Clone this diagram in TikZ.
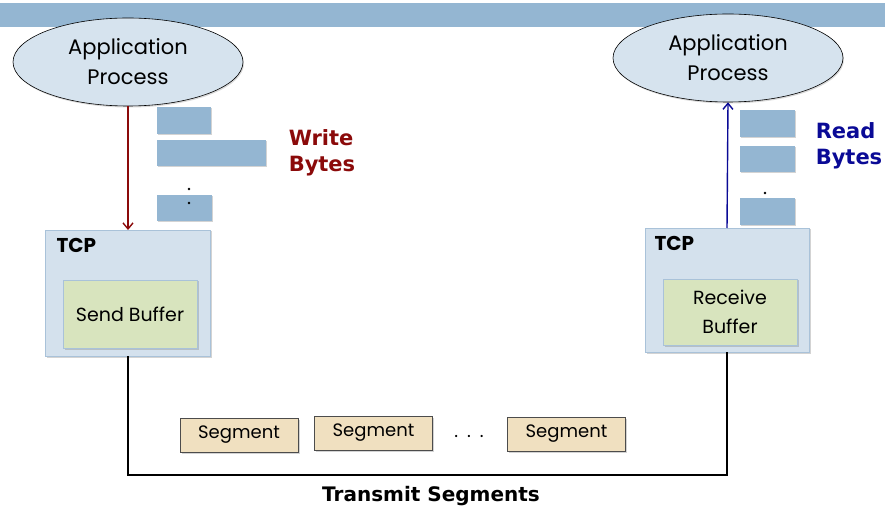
\documentclass[tikz,border=0pt]{standalone}
\usepackage{fontspec}
\setmainfont{Poppins}
\newfontfamily\comicf{DejaVu Sans}
\usetikzlibrary{shapes.geometric,shadows,arrows.meta}
\definecolor{band}{HTML}{94B6D2}
\definecolor{ellfill}{HTML}{D6E3EE}
\definecolor{tcpfill}{HTML}{D4E1ED}
\definecolor{tcpline}{HTML}{A9C2D9}
\definecolor{buffill}{HTML}{D8E4BE}
\definecolor{segfill}{HTML}{F0E0C0}
\definecolor{wred}{HTML}{8B0A0A}
\definecolor{rblue}{HTML}{0A0A96}
\begin{document}
\begin{tikzpicture}[x=1pt,y=-1pt,
  proc/.style={ellipse,draw=black,fill=ellfill,line width=0.6pt,minimum width=230pt,minimum height=88pt,align=center,font=\fontsize{21}{30}\selectfont,drop shadow={shadow xshift=1pt,shadow yshift=-1.5pt,opacity=0.3}},
  tcpbox/.style={draw=tcpline,fill=tcpfill,line width=0.8pt,drop shadow={shadow xshift=1.5pt,shadow yshift=-1.5pt,opacity=0.35}},
  bufbox/.style={draw=tcpline,fill=buffill,line width=0.8pt,align=center,font=\fontsize{19}{29}\selectfont,drop shadow={shadow xshift=1.5pt,shadow yshift=-1.5pt,opacity=0.35}},
  bytebox/.style={fill=band,drop shadow={shadow xshift=1pt,shadow yshift=-1.5pt,opacity=0.35}},
  segbox/.style={draw=black!70,fill=segfill,line width=0.6pt,minimum width=118pt,minimum height=34pt,font=\fontsize{18}{20}\selectfont,drop shadow={shadow xshift=1.5pt,shadow yshift=-1.5pt,opacity=0.35}},
  lbl/.style={font=\comicf\bfseries\fontsize{21}{26}\selectfont,align=left},
  tcplbl/.style={font=\bfseries\fontsize{20}{22}\selectfont,anchor=west}
]
\useasboundingbox (0,0) rectangle (885,510);
\fill[band] (0,3) rectangle (885,27);

\node[proc] (appL) at (128,62) {Application\\Process};
\node[proc] (appR) at (728,58) {Application\\Process};

% left TCP
\draw[tcpbox] (45,230) rectangle (210,356);
\node[tcplbl] (tcpL) at (53,245) {TCP};
\node[bufbox,minimum width=134pt,minimum height=68pt] (sendbuf) at (130,314) {Send Buffer};
\coordinate (tcpLtop) at (128,230);
\coordinate (tcpLbot) at (128,356);

% right TCP
\draw[tcpbox] (645,228) rectangle (809,352);
\node[tcplbl] (tcpR) at (651,243) {TCP};
\node[bufbox,minimum width=134pt,minimum height=66pt] (recvbuf) at (730,312) {Receive\\Buffer};
\coordinate (tcpRtop) at (727,228);
\coordinate (tcpRbot) at (727,352);

% byte boxes left
\fill[bytebox] (157,107) rectangle (211,134);
\fill[bytebox] (157,140) rectangle (266,166);
\fill[bytebox] (157,195) rectangle (212,221);
\fill (189,189) circle (1.3pt);
\fill (189,203) circle (1.3pt);
\node[lbl,text=wred] (wb) at (322,153) {Write\\Bytes};

% byte boxes right
\fill[bytebox] (740,110) rectangle (795,137);
\fill[bytebox] (740,146) rectangle (795,172);
\fill[bytebox] (740,198) rectangle (795,225);
\fill (765,193) circle (1.3pt);
\node[lbl,text=rblue] (rb) at (849,146) {Read\\Bytes};

% arrows
\draw[wred,line width=1.4pt,-{Straight Barb[length=6pt,width=10pt]}] (appL.south) -- (tcpLtop);
\draw[rblue,line width=1.4pt,-{Straight Barb[length=6pt,width=10pt]}] (tcpRtop) -- (appR.south);

% link
\coordinate (cL) at (128,475);
\coordinate (cR) at (727,475);
\draw[black,line width=1.8pt] (tcpLbot) -- (cL) -- (cR) -- (tcpRbot);

% segments
\node[segbox] (s1) at (239,435) {Segment};
\node[segbox] (s2) at (373.5,433) {Segment};
\node[segbox] (s3) at (566.5,434) {Segment};
\node[font=\fontsize{18}{20}\selectfont] (dots) at (469,436) {.\,\,\,.\,\,\,.};

\node[font=\comicf\bfseries\fontsize{20}{22}\selectfont] (ts) at (431,496) {Transmit Segments};
\end{tikzpicture}
\end{document}
